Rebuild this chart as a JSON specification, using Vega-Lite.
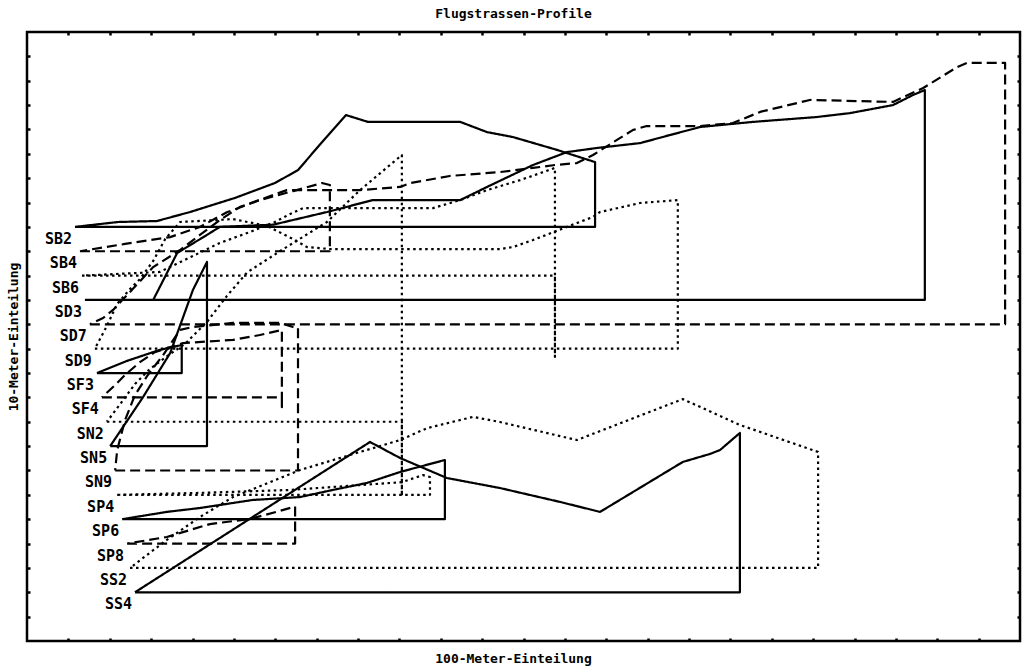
{
"$schema": "https://vega.github.io/schema/vega-lite/v6.json",
"width": 993, "height": 609,
"autosize": {"type": "none"},
"padding": {"left": 27, "top": 32, "right": 7, "bottom": 29},
"background": "white",
"title": {"text": "Flugstrassen-Profile", "font": "DejaVu Sans Mono", "fontSize": 13, "fontWeight": "bold", "color": "black", "offset": 10, "dx": -10},
"config": {
  "view": {"stroke": "black", "strokeWidth": 2.5},
  "axis": {"domain": false, "grid": false, "labels": false, "ticks": true, "tickColor": "black", "tickWidth": 2.5, "tickSize": -3, "titleFont": "DejaVu Sans Mono", "titleFontSize": 13, "titleFontWeight": "bold", "titleColor": "black"}
},
"datasets": {
"profiles": [
{"p":"SB2","s":"solid","i":0,"x":1.16,"y":17},{"p":"SB2","s":"solid","i":1,"x":13.73,"y":17},{"p":"SB2","s":"solid","i":2,"x":13.73,"y":19.66},{"p":"SB2","s":"solid","i":3,"x":12.81,"y":20.16},{"p":"SB2","s":"solid","i":4,"x":11.74,"y":20.69},{"p":"SB2","s":"solid","i":5,"x":11.12,"y":20.89},{"p":"SB2","s":"solid","i":6,"x":10.47,"y":21.31},{"p":"SB2","s":"solid","i":7,"x":8.24,"y":21.31},{"p":"SB2","s":"solid","i":8,"x":7.71,"y":21.59},{"p":"SB2","s":"solid","i":9,"x":7.13,"y":20.48},{"p":"SB2","s":"solid","i":10,"x":6.55,"y":19.33},{"p":"SB2","s":"solid","i":11,"x":5.99,"y":18.8},{"p":"SB2","s":"solid","i":12,"x":5.03,"y":18.19},{"p":"SB2","s":"solid","i":13,"x":3.94,"y":17.61},{"p":"SB2","s":"solid","i":14,"x":3.14,"y":17.24},{"p":"SB2","s":"solid","i":15,"x":2.2,"y":17.2},{"p":"SB2","s":"solid","i":16,"x":1.16,"y":17},
{"p":"SB4","s":"dashed","i":0,"x":1.28,"y":16},{"p":"SB4","s":"dashed","i":1,"x":7.32,"y":16},{"p":"SB4","s":"dashed","i":2,"x":7.32,"y":18.72},{"p":"SB4","s":"dashed","i":3,"x":7.13,"y":18.8},{"p":"SB4","s":"dashed","i":4,"x":6.43,"y":18.47},{"p":"SB4","s":"dashed","i":5,"x":5.63,"y":18.1},{"p":"SB4","s":"dashed","i":6,"x":4.83,"y":17.6},{"p":"SB4","s":"dashed","i":7,"x":4.18,"y":17.0},{"p":"SB4","s":"dashed","i":8,"x":3.46,"y":16.58},{"p":"SB4","s":"dashed","i":9,"x":2.37,"y":16.3},{"p":"SB4","s":"dashed","i":10,"x":1.28,"y":16},
{"p":"SB6","s":"dotted","i":0,"x":1.33,"y":15},{"p":"SB6","s":"dotted","i":1,"x":12.76,"y":15},{"p":"SB6","s":"dotted","i":2,"x":12.76,"y":11.66},{"p":"SB6","s":"dotted","i":3,"x":12.76,"y":19.42},{"p":"SB6","s":"dotted","i":4,"x":11.92,"y":18.92},{"p":"SB6","s":"dotted","i":5,"x":11.12,"y":18.51},{"p":"SB6","s":"dotted","i":6,"x":10.47,"y":18.1},{"p":"SB6","s":"dotted","i":7,"x":9.81,"y":17.77},{"p":"SB6","s":"dotted","i":8,"x":6.67,"y":17.77},{"p":"SB6","s":"dotted","i":9,"x":6.36,"y":17.53},{"p":"SB6","s":"dotted","i":10,"x":5.99,"y":17.2},{"p":"SB6","s":"dotted","i":11,"x":5.39,"y":16.79},{"p":"SB6","s":"dotted","i":12,"x":4.66,"y":16.34},{"p":"SB6","s":"dotted","i":13,"x":3.21,"y":15.15},{"p":"SB6","s":"dotted","i":14,"x":1.33,"y":15},
{"p":"SD3","s":"solid","i":0,"x":1.40,"y":14},{"p":"SD3","s":"solid","i":1,"x":21.7,"y":14},{"p":"SD3","s":"solid","i":2,"x":21.7,"y":22.62},{"p":"SD3","s":"solid","i":3,"x":21.41,"y":22.41},{"p":"SD3","s":"solid","i":4,"x":20.93,"y":22.0},{"p":"SD3","s":"solid","i":5,"x":19.89,"y":21.67},{"p":"SD3","s":"solid","i":6,"x":19.09,"y":21.51},{"p":"SD3","s":"solid","i":7,"x":17.55,"y":21.31},{"p":"SD3","s":"solid","i":8,"x":16.27,"y":21.1},{"p":"SD3","s":"solid","i":9,"x":15.54,"y":20.77},{"p":"SD3","s":"solid","i":10,"x":14.82,"y":20.44},{"p":"SD3","s":"solid","i":11,"x":13.78,"y":20.24},{"p":"SD3","s":"solid","i":12,"x":13.05,"y":20.07},{"p":"SD3","s":"solid","i":13,"x":12.23,"y":19.54},{"p":"SD3","s":"solid","i":14,"x":11.12,"y":18.64},{"p":"SD3","s":"solid","i":15,"x":10.47,"y":18.1},{"p":"SD3","s":"solid","i":16,"x":8.36,"y":18.1},{"p":"SD3","s":"solid","i":17,"x":7.25,"y":17.61},{"p":"SD3","s":"solid","i":18,"x":5.95,"y":17.09},{"p":"SD3","s":"solid","i":19,"x":4.66,"y":17.0},{"p":"SD3","s":"solid","i":20,"x":4.35,"y":16.67},{"p":"SD3","s":"solid","i":21,"x":3.63,"y":15.93},{"p":"SD3","s":"solid","i":22,"x":3.05,"y":14},{"p":"SD3","s":"solid","i":23,"x":1.40,"y":14},
{"p":"SD7","s":"dashed","i":0,"x":1.52,"y":13},{"p":"SD7","s":"dashed","i":1,"x":23.64,"y":13},{"p":"SD7","s":"dashed","i":2,"x":23.64,"y":23.73},{"p":"SD7","s":"dashed","i":3,"x":22.72,"y":23.73},{"p":"SD7","s":"dashed","i":4,"x":22.48,"y":23.56},{"p":"SD7","s":"dashed","i":5,"x":21.66,"y":22.7},{"p":"SD7","s":"dashed","i":6,"x":20.93,"y":22.13},{"p":"SD7","s":"dashed","i":7,"x":18.92,"y":22.21},{"p":"SD7","s":"dashed","i":8,"x":17.72,"y":21.72},{"p":"SD7","s":"dashed","i":9,"x":17.06,"y":21.26},{"p":"SD7","s":"dashed","i":10,"x":16.27,"y":21.14},{"p":"SD7","s":"dashed","i":11,"x":14.98,"y":21.14},{"p":"SD7","s":"dashed","i":12,"x":14.65,"y":20.98},{"p":"SD7","s":"dashed","i":13,"x":14.26,"y":20.57},{"p":"SD7","s":"dashed","i":14,"x":13.68,"y":19.95},{"p":"SD7","s":"dashed","i":15,"x":13.29,"y":19.62},{"p":"SD7","s":"dashed","i":16,"x":12.76,"y":19.54},{"p":"SD7","s":"dashed","i":17,"x":12.23,"y":19.42},{"p":"SD7","s":"dashed","i":18,"x":11.43,"y":19.25},{"p":"SD7","s":"dashed","i":19,"x":10.22,"y":19.09},{"p":"SD7","s":"dashed","i":20,"x":9.26,"y":18.8},{"p":"SD7","s":"dashed","i":21,"x":9.02,"y":18.64},{"p":"SD7","s":"dashed","i":22,"x":8.05,"y":18.51},{"p":"SD7","s":"dashed","i":23,"x":6.28,"y":18.51},{"p":"SD7","s":"dashed","i":24,"x":5.15,"y":17.82},{"p":"SD7","s":"dashed","i":25,"x":4.66,"y":17.28},{"p":"SD7","s":"dashed","i":26,"x":4.18,"y":16.67},{"p":"SD7","s":"dashed","i":27,"x":3.70,"y":16.05},{"p":"SD7","s":"dashed","i":28,"x":3.05,"y":15.35},{"p":"SD7","s":"dashed","i":29,"x":2.49,"y":14.33},{"p":"SD7","s":"dashed","i":30,"x":2.08,"y":13.59},{"p":"SD7","s":"dashed","i":31,"x":1.84,"y":13.26},{"p":"SD7","s":"dashed","i":32,"x":1.52,"y":13},
{"p":"SD9","s":"dotted","i":0,"x":1.64,"y":12},{"p":"SD9","s":"dotted","i":1,"x":15.73,"y":12},{"p":"SD9","s":"dotted","i":2,"x":15.73,"y":18.1},{"p":"SD9","s":"dotted","i":3,"x":14.82,"y":17.98},{"p":"SD9","s":"dotted","i":4,"x":13.85,"y":17.61},{"p":"SD9","s":"dotted","i":5,"x":13.68,"y":17.41},{"p":"SD9","s":"dotted","i":6,"x":13.05,"y":17.0},{"p":"SD9","s":"dotted","i":7,"x":12.23,"y":16.46},{"p":"SD9","s":"dotted","i":8,"x":11.74,"y":16.17},{"p":"SD9","s":"dotted","i":9,"x":11.43,"y":16.09},{"p":"SD9","s":"dotted","i":10,"x":7.32,"y":16.09},{"p":"SD9","s":"dotted","i":11,"x":6.77,"y":16.17},{"p":"SD9","s":"dotted","i":12,"x":6.43,"y":16.5},{"p":"SD9","s":"dotted","i":13,"x":5.80,"y":17.04},{"p":"SD9","s":"dotted","i":14,"x":4.98,"y":17.32},{"p":"SD9","s":"dotted","i":15,"x":3.70,"y":17.2},{"p":"SD9","s":"dotted","i":16,"x":3.34,"y":16.5},{"p":"SD9","s":"dotted","i":17,"x":3.05,"y":15.6},{"p":"SD9","s":"dotted","i":18,"x":2.73,"y":14.86},{"p":"SD9","s":"dotted","i":19,"x":2.49,"y":14.45},{"p":"SD9","s":"dotted","i":20,"x":2.18,"y":13.84},{"p":"SD9","s":"dotted","i":21,"x":1.93,"y":12.93},{"p":"SD9","s":"dotted","i":22,"x":1.64,"y":12},
{"p":"SF3","s":"solid","i":0,"x":1.69,"y":11},{"p":"SF3","s":"solid","i":1,"x":3.74,"y":11},{"p":"SF3","s":"solid","i":2,"x":3.74,"y":12.15},{"p":"SF3","s":"solid","i":3,"x":3.21,"y":11.95},{"p":"SF3","s":"solid","i":4,"x":2.42,"y":11.5},{"p":"SF3","s":"solid","i":5,"x":1.69,"y":11},
{"p":"SF4","s":"dashed","i":0,"x":1.81,"y":10},{"p":"SF4","s":"dashed","i":1,"x":6.16,"y":10},{"p":"SF4","s":"dashed","i":2,"x":6.16,"y":9.6},{"p":"SF4","s":"dashed","i":3,"x":6.16,"y":12.77},{"p":"SF4","s":"dashed","i":4,"x":5.63,"y":12.56},{"p":"SF4","s":"dashed","i":5,"x":4.98,"y":12.36},{"p":"SF4","s":"dashed","i":6,"x":3.77,"y":12.23},{"p":"SF4","s":"dashed","i":7,"x":3.09,"y":11.86},{"p":"SF4","s":"dashed","i":8,"x":2.73,"y":11.45},{"p":"SF4","s":"dashed","i":9,"x":2.37,"y":10.92},{"p":"SF4","s":"dashed","i":10,"x":2.13,"y":10.51},{"p":"SF4","s":"dashed","i":11,"x":1.81,"y":10},
{"p":"SN2","s":"dotted","i":0,"x":1.93,"y":9},{"p":"SN2","s":"dotted","i":1,"x":9.06,"y":9},{"p":"SN2","s":"dotted","i":2,"x":9.06,"y":5.95},{"p":"SN2","s":"dotted","i":3,"x":9.06,"y":19.95},{"p":"SN2","s":"dotted","i":4,"x":8.05,"y":18.51},{"p":"SN2","s":"dotted","i":5,"x":7.25,"y":17.2},{"p":"SN2","s":"dotted","i":6,"x":6.11,"y":16.0},{"p":"SN2","s":"dotted","i":7,"x":5.32,"y":15.13},{"p":"SN2","s":"dotted","i":8,"x":4.83,"y":14.16},{"p":"SN2","s":"dotted","i":9,"x":4.35,"y":13.1},{"p":"SN2","s":"dotted","i":10,"x":3.82,"y":12.2},{"p":"SN2","s":"dotted","i":11,"x":3.46,"y":11.78},{"p":"SN2","s":"dotted","i":12,"x":2.97,"y":11.17},{"p":"SN2","s":"dotted","i":13,"x":2.61,"y":10.55},{"p":"SN2","s":"dotted","i":14,"x":2.25,"y":9.72},{"p":"SN2","s":"dotted","i":15,"x":1.93,"y":9},
{"p":"SN5","s":"solid","i":0,"x":2.01,"y":8},{"p":"SN5","s":"solid","i":1,"x":4.35,"y":8},{"p":"SN5","s":"solid","i":2,"x":4.35,"y":15.56},{"p":"SN5","s":"solid","i":3,"x":4.01,"y":14.41},{"p":"SN5","s":"solid","i":4,"x":3.46,"y":11.82},{"p":"SN5","s":"solid","i":5,"x":2.80,"y":10.0},{"p":"SN5","s":"solid","i":6,"x":2.01,"y":8},
{"p":"SN9","s":"dashed","i":0,"x":2.13,"y":7},{"p":"SN9","s":"dashed","i":1,"x":6.55,"y":7},{"p":"SN9","s":"dashed","i":2,"x":6.55,"y":12.85},{"p":"SN9","s":"dashed","i":3,"x":6.43,"y":12.89},{"p":"SN9","s":"dashed","i":4,"x":6.11,"y":13.06},{"p":"SN9","s":"dashed","i":5,"x":4.98,"y":13.06},{"p":"SN9","s":"dashed","i":6,"x":4.01,"y":12.89},{"p":"SN9","s":"dashed","i":7,"x":3.70,"y":12.77},{"p":"SN9","s":"dashed","i":8,"x":3.29,"y":11.74},{"p":"SN9","s":"dashed","i":9,"x":2.92,"y":10.92},{"p":"SN9","s":"dashed","i":10,"x":2.61,"y":10.1},{"p":"SN9","s":"dashed","i":11,"x":2.37,"y":9.07},{"p":"SN9","s":"dashed","i":12,"x":2.18,"y":7.84},{"p":"SN9","s":"dashed","i":13,"x":2.13,"y":7},
{"p":"SP4","s":"dotted","i":0,"x":2.18,"y":6},{"p":"SP4","s":"dotted","i":1,"x":9.74,"y":6},{"p":"SP4","s":"dotted","i":2,"x":9.74,"y":6.73},{"p":"SP4","s":"dotted","i":3,"x":9.57,"y":6.81},{"p":"SP4","s":"dotted","i":4,"x":9.06,"y":6.52},{"p":"SP4","s":"dotted","i":5,"x":8.05,"y":6.4},{"p":"SP4","s":"dotted","i":6,"x":6.36,"y":6.2},{"p":"SP4","s":"dotted","i":7,"x":4.18,"y":6.08},{"p":"SP4","s":"dotted","i":8,"x":2.18,"y":6},
{"p":"SP6","s":"solid","i":0,"x":2.30,"y":5},{"p":"SP6","s":"solid","i":1,"x":10.10,"y":5},{"p":"SP6","s":"solid","i":2,"x":10.10,"y":7.43},{"p":"SP6","s":"solid","i":3,"x":9.02,"y":6.94},{"p":"SP6","s":"solid","i":4,"x":8.22,"y":6.49},{"p":"SP6","s":"solid","i":5,"x":7.39,"y":6.2},{"p":"SP6","s":"solid","i":6,"x":6.60,"y":5.91},{"p":"SP6","s":"solid","i":7,"x":5.46,"y":5.79},{"p":"SP6","s":"solid","i":8,"x":4.18,"y":5.46},{"p":"SP6","s":"solid","i":9,"x":3.38,"y":5.3},{"p":"SP6","s":"solid","i":10,"x":2.30,"y":5},
{"p":"SP8","s":"dashed","i":0,"x":2.42,"y":4},{"p":"SP8","s":"dashed","i":1,"x":6.48,"y":4},{"p":"SP8","s":"dashed","i":2,"x":6.48,"y":5.52},{"p":"SP8","s":"dashed","i":3,"x":6.11,"y":5.34},{"p":"SP8","s":"dashed","i":4,"x":5.39,"y":5.01},{"p":"SP8","s":"dashed","i":5,"x":4.42,"y":4.8},{"p":"SP8","s":"dashed","i":6,"x":3.77,"y":4.47},{"p":"SP8","s":"dashed","i":7,"x":3.38,"y":4.27},{"p":"SP8","s":"dashed","i":8,"x":2.42,"y":4},
{"p":"SS2","s":"dotted","i":0,"x":2.49,"y":3},{"p":"SS2","s":"dotted","i":1,"x":19.12,"y":3},{"p":"SS2","s":"dotted","i":2,"x":19.12,"y":7.76},{"p":"SS2","s":"dotted","i":3,"x":17.23,"y":8.87},{"p":"SS2","s":"dotted","i":4,"x":15.85,"y":9.93},{"p":"SS2","s":"dotted","i":5,"x":13.29,"y":8.25},{"p":"SS2","s":"dotted","i":6,"x":11.43,"y":8.99},{"p":"SS2","s":"dotted","i":7,"x":10.78,"y":9.2},{"p":"SS2","s":"dotted","i":8,"x":9.67,"y":8.74},{"p":"SS2","s":"dotted","i":9,"x":9.02,"y":8.25},{"p":"SS2","s":"dotted","i":10,"x":7.4,"y":7.43},{"p":"SS2","s":"dotted","i":11,"x":6.6,"y":7.02},{"p":"SS2","s":"dotted","i":12,"x":4.98,"y":5.91},{"p":"SS2","s":"dotted","i":13,"x":4.18,"y":5.09},{"p":"SS2","s":"dotted","i":14,"x":3.38,"y":4.15},{"p":"SS2","s":"dotted","i":15,"x":2.49,"y":3},
{"p":"SS4","s":"solid","i":0,"x":2.61,"y":2},{"p":"SS4","s":"solid","i":1,"x":17.23,"y":2},{"p":"SS4","s":"solid","i":2,"x":17.23,"y":8.54},{"p":"SS4","s":"solid","i":3,"x":16.75,"y":7.84},{"p":"SS4","s":"solid","i":4,"x":16.51,"y":7.68},{"p":"SS4","s":"solid","i":5,"x":15.85,"y":7.35},{"p":"SS4","s":"solid","i":6,"x":14.65,"y":6.12},{"p":"SS4","s":"solid","i":7,"x":13.85,"y":5.3},{"p":"SS4","s":"solid","i":8,"x":12.88,"y":5.71},{"p":"SS4","s":"solid","i":9,"x":11.43,"y":6.28},{"p":"SS4","s":"solid","i":10,"x":10.15,"y":6.69},{"p":"SS4","s":"solid","i":11,"x":9.02,"y":7.51},{"p":"SS4","s":"solid","i":12,"x":8.29,"y":8.17},{"p":"SS4","s":"solid","i":13,"x":2.61,"y":2}
],
"labels": [
{"name":"SB2","x":1.16,"y":17},{"name":"SB4","x":1.28,"y":16},{"name":"SB6","x":1.33,"y":15},{"name":"SD3","x":1.40,"y":14},{"name":"SD7","x":1.52,"y":13},{"name":"SD9","x":1.64,"y":12},{"name":"SF3","x":1.69,"y":11},{"name":"SF4","x":1.81,"y":10},{"name":"SN2","x":1.93,"y":9},{"name":"SN5","x":2.01,"y":8},{"name":"SN9","x":2.13,"y":7},{"name":"SP4","x":2.18,"y":6},{"name":"SP6","x":2.30,"y":5},{"name":"SP8","x":2.42,"y":4},{"name":"SS2","x":2.49,"y":3},{"name":"SS4","x":2.61,"y":2}
]
},
"layer": [
{
 "data": {"name": "profiles"},
 "mark": {"type": "line", "color": "black", "strokeWidth": 2.2, "strokeCap": "butt", "strokeJoin": "round"},
 "encoding": {
  "x": {"field": "x", "type": "quantitative", "scale": {"domain": [0, 24], "nice": false, "zero": false}, "axis": {"orient": "bottom", "values": [1,2,3,4,5,6,7,8,9,10,11,12,13,14,15,16,17,18,19,20,21,22,23], "title": "100-Meter-Einteilung", "titleX": 486, "titlePadding": 10}},
  "y": {"field": "y", "type": "quantitative", "scale": {"domain": [0, 25], "nice": false, "zero": false}, "axis": {"orient": "left", "values": [1,2,3,4,5,6,7,8,9,10,11,12,13,14,15,16,17,18,19,20,21,22,23,24], "title": "10-Meter-Einteilung", "titlePadding": 5}},
  "detail": {"field": "p"},
  "order": {"field": "i", "type": "quantitative"},
  "strokeDash": {"field": "s", "type": "nominal", "scale": {"domain": ["solid", "dashed", "dotted"], "range": [[1, 0], [10, 5], [2.5, 3.5]]}, "legend": null}
 }
},
{
 "data": {"name": "labels"},
 "mark": {"type": "text", "align": "right", "baseline": "middle", "dx": -3, "dy": 12, "font": "DejaVu Sans Mono", "fontSize": 15, "fontWeight": "bold", "color": "black"},
 "encoding": {
  "x": {"field": "x", "type": "quantitative", "axis": {"orient": "top", "values": [1,2,3,4,5,6,7,8,9,10,11,12,13,14,15,16,17,18,19,20,21,22,23], "title": null}},
  "y": {"field": "y", "type": "quantitative", "axis": {"orient": "right", "values": [1,2,3,4,5,6,7,8,9,10,11,12,13,14,15,16,17,18,19,20,21,22,23,24], "title": null}},
  "text": {"field": "name"}
 }
}
],
"resolve": {"axis": {"x": "independent", "y": "independent"}}
}
